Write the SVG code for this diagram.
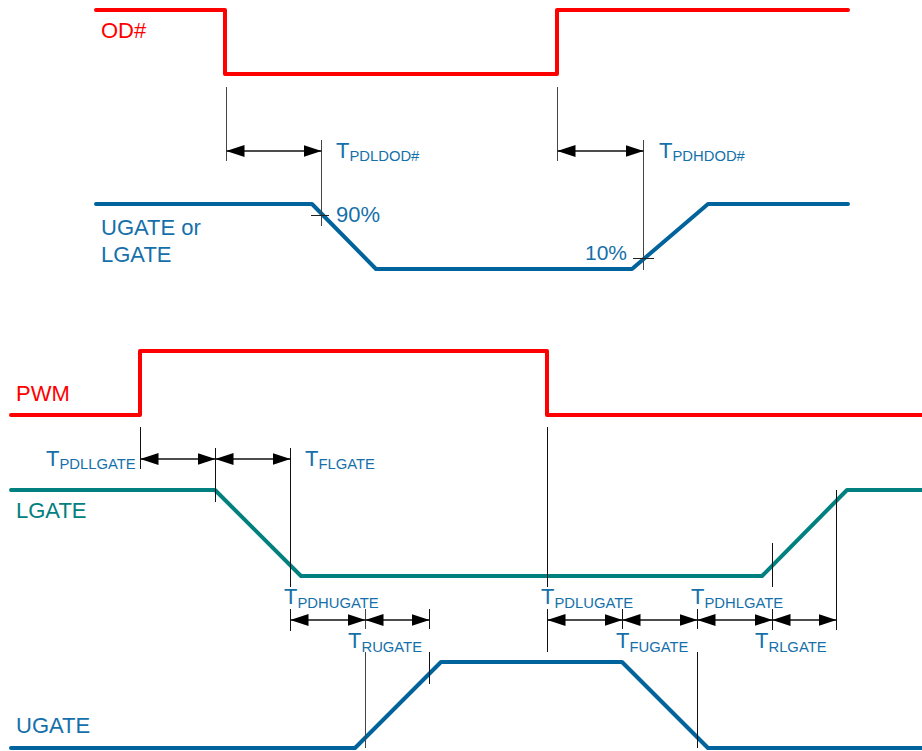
<svg xmlns="http://www.w3.org/2000/svg" width="922" height="751" viewBox="0 0 922 751">
<style>
.wave{fill:none;stroke-width:4;stroke-linejoin:round;stroke-linecap:round}
.red{stroke:#FF0000}
.blue{stroke:#00639C}
.teal{stroke:#00807E}
.lbl{font-family:"Liberation Sans",Arial,sans-serif;font-size:22px}
.tl{font-family:"Liberation Sans",Arial,sans-serif;font-size:22px;fill:#1570AA}
.sub{font-size:14.8px}
.guide{stroke:#111;stroke-width:1;fill:none;shape-rendering:crispEdges}
.gguide{stroke:#444;stroke-width:1;fill:none;shape-rendering:crispEdges}
.arr{stroke:#111;stroke-width:1.3;marker-start:url(#ah);marker-end:url(#ah)}
.tick{stroke:#222;stroke-width:1;shape-rendering:crispEdges}
</style>
<defs>
<marker id="ah" markerUnits="userSpaceOnUse" markerWidth="18" markerHeight="12" refX="18" refY="6" orient="auto-start-reverse">
<path d="M0,0 L18,6 L0,12 z" fill="#000"/>
</marker>
</defs>
<rect width="922" height="751" fill="#fff"/>

<g id="od">
<polyline class="wave red" points="96,10 225,10 225,74 557,74 557,10 848,10"/>
<text class="lbl" x="101" y="38" fill="#FF0000">OD#</text>
</g>

<g id="gate-top">
<polyline class="wave blue" points="96,204 312,204 376,269 632,269 708,204 848,204"/>
<text class="lbl" x="101" y="235" fill="#1570AA">UGATE or</text>
<text class="lbl" x="101" y="262" fill="#1570AA">LGATE</text>
<text class="tl" x="336" y="222">90%</text>
<text class="tl" x="627" y="260" text-anchor="end" style="font-size:21px">10%</text>
</g>

<g id="pwm">
<polyline class="wave red" points="11,415 140,415 140,351 547,351 547,415 924,415"/>
<text class="lbl" x="16" y="401" fill="#FF0000">PWM</text>
</g>

<g id="lgate">
<polyline class="wave teal" points="11,490 215,490 301,576 762,576 847,490 924,490"/>
<text class="lbl" x="16" y="518" fill="#00807E">LGATE</text>
</g>

<g id="ugate">
<polyline class="wave blue" points="11,748 355,748 441,662 622,662 708,748 924,748"/>
<text class="lbl" x="16" y="733" fill="#1570AA">UGATE</text>
</g>

<g id="connectors">
<line class="gguide" x1="226.5" y1="87" x2="226.5" y2="161"/>
<line class="gguide" x1="321.5" y1="140" x2="321.5" y2="226"/>
<line class="gguide" x1="557.5" y1="87" x2="557.5" y2="161"/>
<line class="gguide" x1="643.5" y1="140" x2="643.5" y2="270"/>
<line class="tick" x1="311" y1="215.5" x2="329" y2="215.5"/>
<line class="tick" x1="633" y1="258.5" x2="654" y2="258.5"/>
<line class="arr" x1="226.5" y1="151" x2="321.5" y2="151"/>
<line class="arr" x1="557.5" y1="151" x2="643.5" y2="151"/>

<line class="guide" x1="140.5" y1="427" x2="140.5" y2="469"/>
<line class="guide" x1="215.5" y1="448" x2="215.5" y2="502"/>
<line class="guide" x1="290.5" y1="448" x2="290.5" y2="587"/>
<line class="guide" x1="290.5" y1="609" x2="290.5" y2="631"/>
<line class="guide" x1="547.5" y1="427" x2="547.5" y2="587"/>
<line class="guide" x1="547.5" y1="609" x2="547.5" y2="652"/>
<line class="guide" x1="772.5" y1="543" x2="772.5" y2="587"/>
<line class="guide" x1="772.5" y1="609" x2="772.5" y2="630"/>
<line class="guide" x1="836.5" y1="490" x2="836.5" y2="630"/>
<line class="gguide" x1="365.5" y1="609" x2="365.5" y2="629"/>
<line class="gguide" x1="365.5" y1="652" x2="365.5" y2="748"/>
<line class="guide" x1="429.5" y1="609" x2="429.5" y2="629"/>
<line class="guide" x1="429.5" y1="652" x2="429.5" y2="684"/>
<line class="guide" x1="622.5" y1="609" x2="622.5" y2="629"/>
<line class="guide" x1="697.5" y1="609" x2="697.5" y2="629"/>
<line class="guide" x1="697.5" y1="652" x2="697.5" y2="748"/>

<line class="arr" x1="140.5" y1="459" x2="215.5" y2="459"/>
<line class="arr" x1="215.5" y1="459" x2="290.5" y2="459"/>
<line class="arr" x1="290.5" y1="620" x2="365.5" y2="620"/>
<line class="arr" x1="365.5" y1="620" x2="429.5" y2="620"/>
<line class="arr" x1="547.5" y1="620" x2="622.5" y2="620"/>
<line class="arr" x1="622.5" y1="620" x2="697.5" y2="620"/>
<line class="arr" x1="697.5" y1="620" x2="772.5" y2="620"/>
<line class="arr" x1="772.5" y1="620" x2="836.5" y2="620"/>

<text class="tl" x="336" y="158">T<tspan class="sub" dy="3">PDLDOD#</tspan></text>
<text class="tl" x="659" y="158">T<tspan class="sub" dy="3">PDHDOD#</tspan></text>
<text class="tl" x="46" y="466">T<tspan class="sub" dy="2.5">PDLLGATE</tspan></text>
<text class="tl" x="305" y="466">T<tspan class="sub" dy="2.5">FLGATE</tspan></text>
<text class="tl" x="284" y="604">T<tspan class="sub" dy="3.5">PDHUGATE</tspan></text>
<text class="tl" x="348" y="648">T<tspan class="sub" dy="3.5">RUGATE</tspan></text>
<text class="tl" x="541" y="604">T<tspan class="sub" dy="3.5">PDLUGATE</tspan></text>
<text class="tl" x="616" y="648">T<tspan class="sub" dy="3.5">FUGATE</tspan></text>
<text class="tl" x="691" y="604">T<tspan class="sub" dy="3.5">PDHLGATE</tspan></text>
<text class="tl" x="755" y="648">T<tspan class="sub" dy="3.5">RLGATE</tspan></text>
</g>
</svg>
